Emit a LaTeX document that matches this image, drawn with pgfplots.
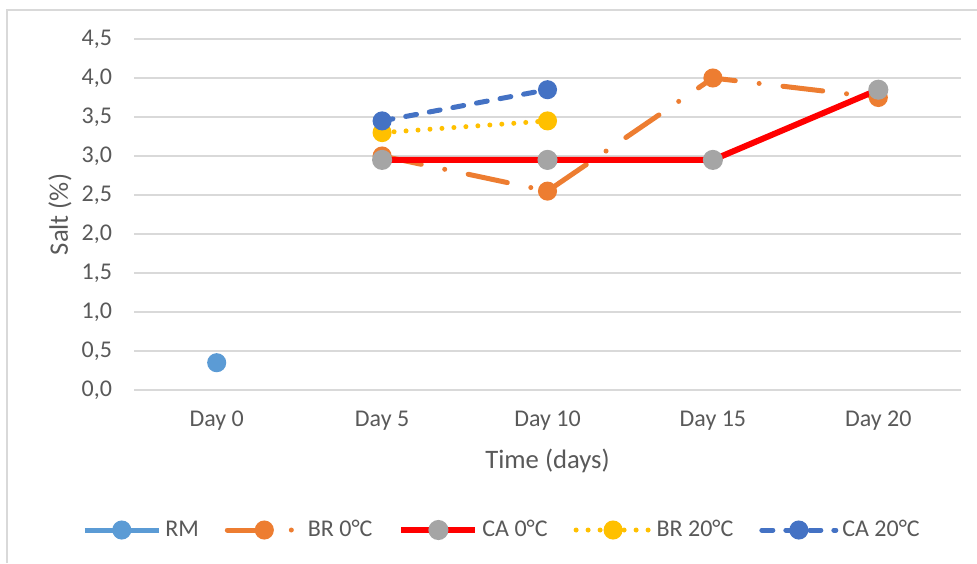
\documentclass[border=0pt]{standalone}
\usepackage{fontspec}
\setmainfont{Carlito}
\usepackage{pgfplots}
\pgfplotsset{compat=1.18}

\definecolor{txt}{HTML}{595959}
\definecolor{gridc}{HTML}{D9D9D9}
\definecolor{rmc}{HTML}{5B9BD5}
\definecolor{brc}{HTML}{ED7D31}
\definecolor{cac}{HTML}{FF0000}
\definecolor{cam}{HTML}{A5A5A5}
\definecolor{br2}{HTML}{FFC000}
\definecolor{ca2}{HTML}{4472C4}

\begin{document}
\begin{tikzpicture}
\useasboundingbox (0pt,0pt) rectangle (488.5pt,281.5pt);
% chart frame (cropped on right and bottom)
\draw[gridc, line width=0.75pt] (3.5pt,0pt) -- (3.5pt,276.5pt) -- (488.5pt,276.5pt);

\begin{axis}[
  at={(67pt,86.5pt)}, anchor=south west,
  scale only axis, width=413.5pt, height=175.5pt,
  xmin=-0.5, xmax=4.5, ymin=0, ymax=4.5,
  xtick={0,1,2,3,4},
  xticklabels={Day 0,Day 5,Day 10,Day 15,Day 20},
  ytick={0,0.5,...,4.5},
  /pgf/number format/fixed, /pgf/number format/fixed zerofill,
  /pgf/number format/precision=1, /pgf/number format/use comma,
  /pgf/number format/assume math mode=true,
  ymajorgrids, major grid style={gridc, line width=0.75pt},
  axis line style={draw=none}, tick style={draw=none},
  ticklabel style={font=\fontsize{12}{14}\selectfont, text=txt},
  xticklabel style={anchor=center, yshift=-15.5pt},
  yticklabel style={anchor=east, xshift=-7.5pt},
  xlabel={Time (days)}, ylabel={Salt (\%)},
  every axis x label/.style={at={(axis description cs:0.5,-0.2023)}, anchor=center,
    font=\fontsize{13.33}{16}\selectfont, text=txt},
  every axis y label/.style={at={(axis description cs:-0.0895,0.5)}, rotate=90, anchor=center,
    font=\fontsize{13.33}{16}\selectfont, text=txt},
  legend columns=5,
  legend style={at={(axis description cs:0.4462,-0.3989)}, anchor=center, draw=none,
    font=\fontsize{12}{14}\selectfont, text=txt,
    /tikz/every even column/.append style={column sep=11pt}},
  legend image code/.code={
    \draw[mark repeat=2,mark phase=2] plot coordinates {(0cm,0cm) (0.65cm,0cm) (1.3cm,0cm)};},
  clip=false,
]
\addplot[rmc, line width=2.5pt, mark=*, mark size=3.5pt, mark options={solid, fill=rmc, draw=rmc}]
  coordinates {(0,0.35)};
\addlegendentry{RM}
\addplot[brc, line width=2.5pt, line cap=round, dash pattern=on 20pt off 12pt on 0pt off 12pt,
  mark=*, mark size=3.5pt, mark options={solid, fill=brc, draw=brc}]
  coordinates {(1,3.0) (2,2.55) (3,4.0) (4,3.75)};
\addlegendentry{BR 0°C}
\addplot[cac, line width=3pt, mark=*, mark size=3.5pt, mark options={solid, fill=cam, draw=cam}]
  coordinates {(1,2.95) (2,2.95) (3,2.95) (4,3.85)};
\addlegendentry{CA 0°C}
\addplot[br2, line width=2.5pt, line cap=round, dash pattern=on 0pt off 6pt,
  mark=*, mark size=3.5pt, mark options={solid, fill=br2, draw=br2}]
  coordinates {(1,3.3) (2,3.45)};
\addlegendentry{BR 20°C}
\addplot[ca2, line width=2.5pt, line cap=round, dash pattern=on 5.5pt off 6.5pt,
  mark=*, mark size=3.5pt, mark options={solid, fill=ca2, draw=ca2}]
  coordinates {(1,3.45) (2,3.85)};
\addlegendentry{CA 20°C}
\end{axis}
\end{tikzpicture}
\end{document}
